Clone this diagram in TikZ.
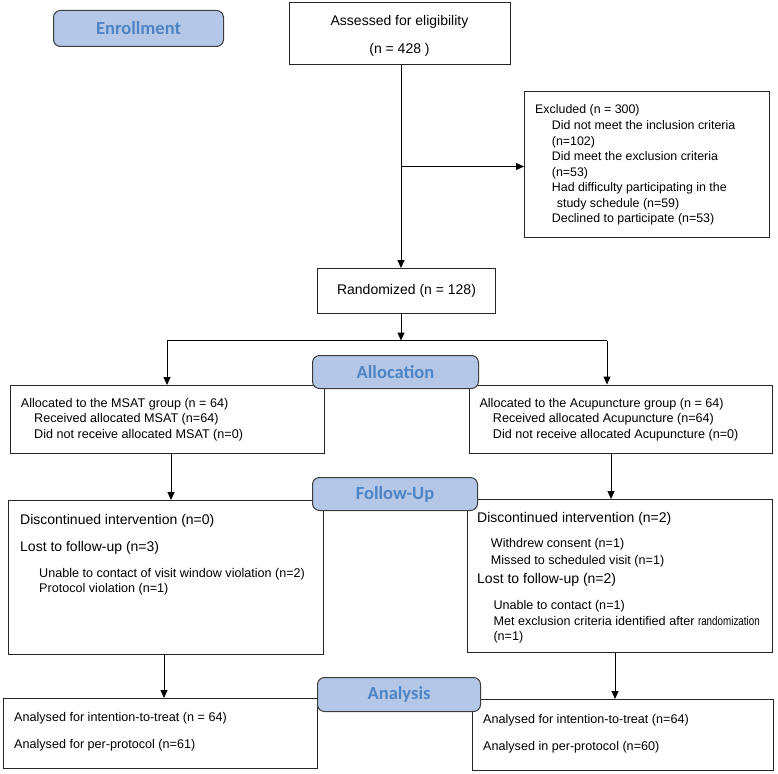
\documentclass[tikz,border=0pt]{standalone}
\usepackage{fontspec}
\usepackage{graphicx}
\setmainfont{Liberation Sans}
\newfontfamily\labelfont{Carlito}
\usetikzlibrary{arrows.meta}
\definecolor{lblfill}{HTML}{B4C7E7}
\definecolor{lbltext}{HTML}{4F84C4}
\definecolor{lblborder}{HTML}{3C3C3C}
\begin{document}
\begin{tikzpicture}[x=1pt,y=-1pt,
  box/.style={draw=black!85,line width=1pt,fill=white,inner sep=0pt,anchor=north west},
  lbl/.style={draw=lblborder,line width=1pt,fill=lblfill,rounded corners=7pt,inner sep=0pt,anchor=north west,font=\labelfont\bfseries\fontsize{18.5}{20}\selectfont,text=lbltext},
  big/.style={font=\fontsize{14}{16}\selectfont,inner sep=0pt,anchor=base west},
  sm/.style={font=\fontsize{12.6}{15}\selectfont,inner sep=0pt,anchor=base west},
  ex/.style={font=\fontsize{12.4}{15}\selectfont,inner sep=0pt,anchor=base west},
  arr/.style={line width=1pt,-{Triangle[length=8pt,width=7pt]}},
  ln/.style={line width=1pt}]
\useasboundingbox (0,0) rectangle (778,773);

% boxes
\node[box,minimum width=221pt,minimum height=62pt] (assess) at (289,2) {};
\node[box,minimum width=245pt,minimum height=146pt] (excl) at (524,91) {};
\node[box,minimum width=178pt,minimum height=45pt,font=\fontsize{14}{16}\selectfont] (rand) at (317,268) {Randomized (n = 128)};
\node[box,minimum width=314pt,minimum height=68pt] (allocL) at (10,385) {};
\node[box,minimum width=303pt,minimum height=68.5pt] (allocR) at (469,384.5) {};
\node[box,minimum width=315pt,minimum height=154pt] (followL) at (8,500) {};
\node[box,minimum width=305pt,minimum height=153pt] (followR) at (467,499) {};
\node[box,minimum width=314pt,minimum height=70pt] (anaL) at (3,698) {};
\node[box,minimum width=301pt,minimum height=71pt] (anaR) at (472,699) {};

% texts
\node[big,anchor=base] (assessA) at (399.5,26) {Assessed for eligibility};
\node[big,anchor=base] (assessB) at (399.5,54) {(n = 428 )};

\node[ex] (ex1) at (535,113.8) {Excluded (n = 300)};
\node[ex] (ex2) at (551.7,129.5) {Did not meet the inclusion criteria};
\node[ex] (ex3) at (551.7,145.2) {(n=102)};
\node[ex] (ex4) at (551.7,160.5) {Did meet the exclusion criteria};
\node[ex] (ex5) at (551.7,176.2) {(n=53)};
\node[ex] (ex6) at (551.7,191.8) {Had difficulty participating in the};
\node[ex] (ex7) at (556.7,207.5) {study schedule (n=59)};
\node[ex] (ex8) at (551.7,222.8) {Declined to participate (n=53)};

\node[sm] (al1) at (20.7,407.8) {Allocated to the MSAT group (n = 64)};
\node[sm] (al2) at (34,422.8) {Received allocated MSAT (n=64)};
\node[sm] (al3) at (34,438.8) {Did not receive allocated MSAT (n=0)};

\node[sm] (ar1) at (479.3,407.2) {Allocated to the Acupuncture group (n = 64)};
\node[sm] (ar2) at (492.7,422.2) {Received allocated Acupuncture (n=64)};
\node[sm] (ar3) at (492.7,438.5) {Did not receive allocated Acupuncture (n=0)};

\node[big] (fl1) at (20,524) {Discontinued intervention (n=0)};
\node[big] (fl2) at (20,551.7) {Lost to follow-up (n=3)};
\node[sm] (fl3) at (39,577.2) {Unable to contact of visit window violation (n=2)};
\node[sm] (fl4) at (39,592.8) {Protocol violation (n=1)};

\node[big] (fr1) at (477,522.3) {Discontinued intervention (n=2)};
\node[sm] (fr2) at (490.7,547.8) {Withdrew consent (n=1)};
\node[sm] (fr3) at (490.7,564.5) {Missed to scheduled visit (n=1)};
\node[big] (fr4) at (477,583.3) {Lost to follow-up (n=2)};
\node[sm] (fr5) at (493.3,609.5) {Unable to contact (n=1)};
\node[sm] (fr6) at (493.3,625) {Met exclusion criteria identified after \scalebox{0.78}[1]{randomization}};
\node[sm] (fr7) at (493.3,640.5) {(n=1)};

\node[sm] (nl1) at (14,721.5) {Analysed for intention-to-treat (n = 64)};
\node[sm] (nl2) at (14,748.5) {Analysed for per-protocol (n=61)};
\node[sm] (nr1) at (483,723.5) {Analysed for intention-to-treat (n=64)};
\node[sm] (nr2) at (483,750.5) {Analysed in per-protocol (n=60)};

% connectors
\coordinate (trunk) at (401,166.5);
\coordinate (split) at (401,340.5);
\coordinate (aL) at (167,340.5);
\coordinate (aR) at (607,340.5);
\coordinate (fL) at (171,470);
\coordinate (fR) at (611,470);
\coordinate (nL) at (164,680);
\coordinate (nR) at (615,680);
\draw[arr] (assess.south -| trunk) -- (rand.north -| trunk);
\draw[arr] (trunk) -- (trunk -| excl.west);
\draw[arr] (rand.south -| split) -- (split);
\draw[ln] (aL) -- (aR);
\draw[arr] (aL) -- (aL |- allocL.north);
\draw[arr] (aR) -- (aR |- allocR.north);
\draw[arr] (allocL.south -| fL) -- (followL.north -| fL);
\draw[arr] (allocR.south -| fR) -- (followR.north -| fR);
\draw[arr] (followL.south -| nL) -- (anaL.north -| nL);
\draw[arr] (followR.south -| nR) -- (anaR.north -| nR);

% stage labels
\node[lbl,minimum width=170pt,minimum height=36pt] (enroll) at (53,10) {Enrollment};
\node[lbl,minimum width=166pt,minimum height=33pt] (allocLbl) at (312,355) {Allocation};
\node[lbl,minimum width=165pt,minimum height=33pt] (followLbl) at (312,477) {Follow-Up};
\node[lbl,minimum width=163pt,minimum height=34pt] (anaLbl) at (317,677) {Analysis};
\end{tikzpicture}
\end{document}
